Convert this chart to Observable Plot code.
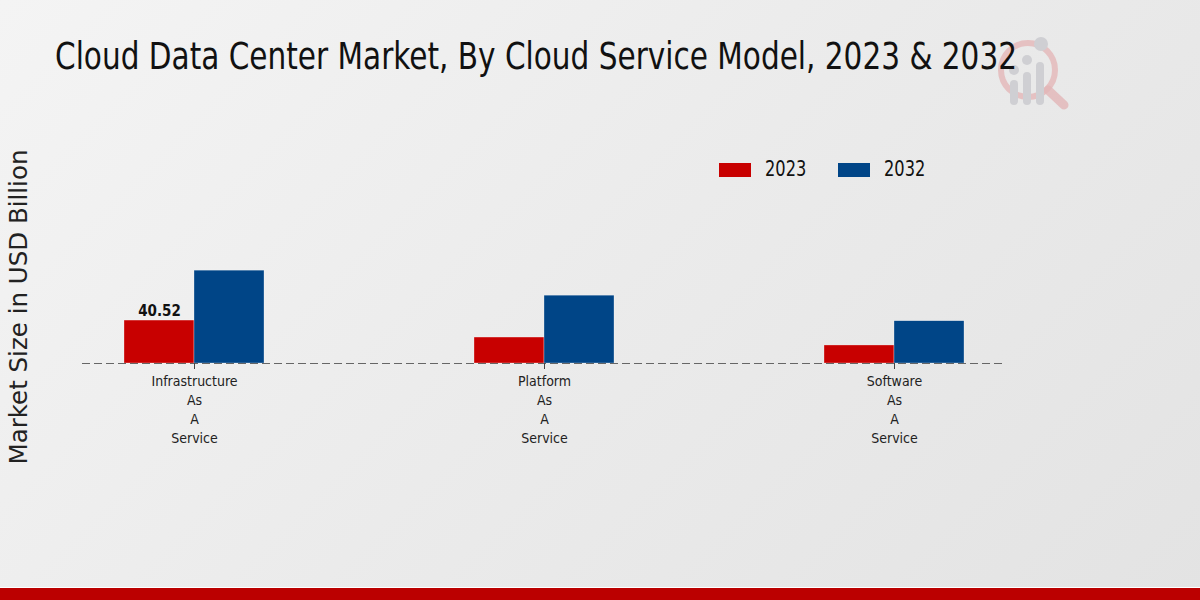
<!DOCTYPE html>
<html>
<head>
<meta charset="utf-8">
<script src="https://cdn.jsdelivr.net/npm/d3@7"></script>
<script src="https://cdn.jsdelivr.net/npm/@observablehq/plot@0.6"></script>
<style>
  html, body { margin: 0; padding: 0; }
  body {
    width: 1200px; height: 600px; overflow: hidden; position: relative;
    background: linear-gradient(135deg, #f4f4f4 0%, #ebebeb 50%, #e3e3e3 100%);
    font-family: "DejaVu Sans Condensed", "DejaVu Sans", sans-serif;
    font-stretch: condensed;
  }
  #title {
    position: absolute; left: 55px; top: 35px;
    font-size: 37px; color: #111; white-space: nowrap;
    transform-origin: 0 0;
  }
  #ylabel {
    position: absolute; left: 18px; top: 307px;
    transform: translate(-50%, -50%) rotate(-90deg);
    font-family: "DejaVu Sans", sans-serif; font-stretch: normal;
    font-size: 24.5px; color: #222; white-space: nowrap;
  }
  #legend { position: absolute; top: 157px; left: 719px; font-size: 20.5px; color: #111; }
  .item { position: absolute; white-space: nowrap; }
  .sw { position: absolute; width: 32px; height: 14px; top: 6px; }
  .lt { position: absolute; left: 46px; top: 0px; transform: scaleX(0.88); transform-origin: 0 0; }
  #chart { position: absolute; left: 0; top: 0; }
  #footer { position: absolute; left: 0; bottom: 0; width: 1200px; height: 12px; background: #bb0000; border-top: 1px solid #ffffff; }
  #logo { position: absolute; left: 990px; top: 30px; }
</style>
</head>
<body>
<div id="logo">
  <svg width="85" height="85" viewBox="0 0 85 85">
    <circle cx="38" cy="40" r="27" fill="none" stroke="#e3b6b8" stroke-width="6" opacity="0.8"/>
    <line x1="58" y1="60" x2="74" y2="75" stroke="#e3b6b8" stroke-width="9" stroke-linecap="round" opacity="0.8"/>
    <rect x="20" y="50" width="8" height="25" rx="4" fill="#cfcfd3"/>
    <rect x="33" y="42" width="8" height="33" rx="4" fill="#cfcfd3"/>
    <rect x="46" y="32" width="8" height="43" rx="4" fill="#cfcfd3"/>
    <circle cx="24" cy="40" r="5" fill="#cfcfd3"/>
    <circle cx="37" cy="30" r="5" fill="#cfcfd3"/>
    <circle cx="51" cy="14" r="7" fill="#cfcfd3"/>
  </svg>
</div>
<div id="title">Cloud Data Center Market, By Cloud Service Model, 2023 &amp; 2032</div>
<div id="ylabel">Market Size in USD Billion</div>
<div id="legend"></div>
<div id="chart"></div>
<div id="footer"></div>
<script>
const categories = ["Infrastructure As A Service", "Platform As A Service", "Software As A Service"];
const years = ["2023", "2032"];
const values2023 = [40.52, 24.5, 17.0];
const values2032 = [87.6, 64.0, 39.9];
const colors = ["#c80000", "#004587"];
const labeled2023 = ["40.52", null, null];

const rows2023 = categories.map((c, i) => ({category: c, value: values2023[i], label: labeled2023[i]}));
const rows2032 = categories.map((c, i) => ({category: c, value: values2032[i]}));

// fit title width to the reference's horizontal extent
const title = document.getElementById("title");
const tw = title.getBoundingClientRect().width;
title.style.transform = `scaleX(${962 / tw})`;

const legend = document.getElementById("legend");
years.forEach((y, i) => {
  const item = document.createElement("div");
  item.className = "item";
  item.style.left = (i * 119) + "px";
  item.innerHTML = `<div class="sw" style="background:${colors[i]}"></div><div class="lt">${y}</div>`;
  legend.appendChild(item);
});

const plot = Plot.plot({
  width: 1200,
  height: 600,
  marginLeft: 82,
  marginRight: 194,
  marginTop: 257,
  marginBottom: 237,
  style: {background: "transparent", fontFamily: "'DejaVu Sans Condensed', 'DejaVu Sans', sans-serif"},
  x: {domain: categories, paddingInner: 0.6, paddingOuter: 0.12, label: null},
  y: {domain: [0, 100], axis: null},
  marks: [
    Plot.barY(rows2023, {x: "category", y: "value", fill: colors[0], insetRight: 70, stroke: "#ffffff", strokeWidth: 0.5, strokeOpacity: 0.6}),
    Plot.barY(rows2032, {x: "category", y: "value", fill: colors[1], insetLeft: 70, stroke: "#ffffff", strokeWidth: 0.5, strokeOpacity: 0.6}),
    Plot.text(rows2023.filter(d => d.label), {x: "category", y: "value", text: "label", dx: -35, dy: -9, fontSize: 15, fontWeight: "bold", fill: "#111", fontFamily: "DejaVu Sans, sans-serif"}),
    Plot.ruleY([0], {stroke: "#666", strokeWidth: 1.2, strokeDasharray: "8,4"}),
    Plot.axisX({
      tickSize: 6, tickPadding: 3, fontSize: 14, lineHeight: 1.36,
      tickFormat: d => d.split(" ").join("\n"), stroke: "#444", fill: "#222", label: null
    })
  ]
});
document.getElementById("chart").appendChild(plot);
</script>
</body>
</html>
